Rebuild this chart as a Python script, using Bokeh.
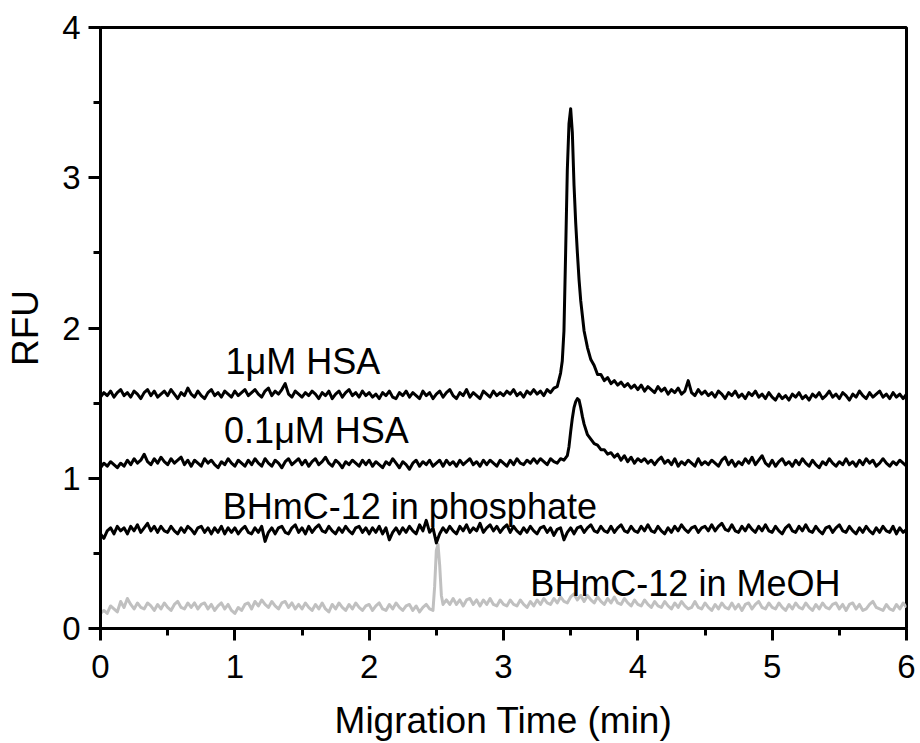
import numpy as np
from bokeh.plotting import figure
from bokeh.models import Range1d, FixedTicker, ColumnDataSource
from bokeh.core.properties import value
from bokeh.embed import file_html
from bokeh.resources import INLINE

# ---------------- data ----------------
# sample times of the electropherograms (min), 0.025 min spacing
time_grid = np.round(np.arange(241) * 0.025, 4)

hsa_1uM = [
    1.54, 1.57, 1.55, 1.58, 1.54, 1.57, 1.59, 1.55, 1.57, 1.54, 1.58, 1.56, 1.53, 1.57, 1.59, 1.55, 1.58, 1.54, 1.56, 1.58,
    1.55, 1.59, 1.56, 1.53, 1.57, 1.55, 1.60, 1.56, 1.54, 1.58, 1.55, 1.53, 1.57, 1.59, 1.55, 1.57, 1.54, 1.58, 1.56, 1.54,
    1.58, 1.55, 1.57, 1.59, 1.55, 1.57, 1.59, 1.56, 1.54, 1.58, 1.60, 1.55, 1.58, 1.56, 1.59, 1.63, 1.56, 1.54, 1.58, 1.56,
    1.54, 1.57, 1.55, 1.58, 1.56, 1.53, 1.57, 1.55, 1.58, 1.53, 1.56, 1.58, 1.54, 1.57, 1.59, 1.55, 1.57, 1.54, 1.58, 1.55,
    1.57, 1.54, 1.56, 1.53, 1.57, 1.55, 1.58, 1.54, 1.53, 1.57, 1.55, 1.58, 1.54, 1.57, 1.55, 1.53, 1.58, 1.55, 1.57, 1.53,
    1.56, 1.58, 1.54, 1.57, 1.59, 1.55, 1.53, 1.57, 1.55, 1.59, 1.54, 1.57, 1.55, 1.53, 1.58, 1.56, 1.54, 1.58, 1.55, 1.57,
    1.55, 1.58, 1.56, 1.59, 1.55, 1.57, 1.54, 1.58, 1.56, 1.59, 1.56, 1.58, 1.55, 1.59, 1.57, 1.60, 1.61, 1.70, 1.98, 3.05,
    3.46, 2.95, 2.50, 2.18, 1.98, 1.87, 1.79, 1.75, 1.69, 1.69, 1.65, 1.67, 1.63, 1.65, 1.62, 1.64, 1.61, 1.63, 1.60, 1.62,
    1.59, 1.62, 1.58, 1.61, 1.59, 1.57, 1.61, 1.58, 1.60, 1.56, 1.59, 1.57, 1.60, 1.56, 1.58, 1.65, 1.57, 1.55, 1.59, 1.56,
    1.58, 1.55, 1.57, 1.54, 1.58, 1.56, 1.53, 1.57, 1.55, 1.58, 1.54, 1.56, 1.53, 1.57, 1.55, 1.58, 1.54, 1.56, 1.53, 1.57,
    1.54, 1.52, 1.56, 1.53, 1.55, 1.52, 1.56, 1.54, 1.57, 1.53, 1.55, 1.52, 1.56, 1.54, 1.57, 1.53, 1.55, 1.58, 1.54, 1.56,
    1.53, 1.57, 1.55, 1.52, 1.56, 1.54, 1.58, 1.55, 1.53, 1.57, 1.54, 1.56, 1.58, 1.54, 1.56, 1.53, 1.57, 1.54, 1.56, 1.53,
    1.56,
]
hsa_1uM_peak_t = [3.4375, 3.4625, 3.4875, 3.5125, 3.5375, 3.5625]
hsa_1uM_peak_v = [1.78, 2.50, 3.36, 3.30, 2.70, 2.32]

hsa_01uM = [
    1.07, 1.10, 1.08, 1.11, 1.09, 1.07, 1.10, 1.08, 1.12, 1.09, 1.13, 1.10, 1.12, 1.16, 1.11, 1.09, 1.13, 1.10, 1.14, 1.11,
    1.09, 1.13, 1.10, 1.12, 1.14, 1.09, 1.12, 1.08, 1.12, 1.10, 1.08, 1.13, 1.10, 1.12, 1.09, 1.07, 1.11, 1.09, 1.13, 1.10,
    1.08, 1.12, 1.10, 1.08, 1.12, 1.09, 1.13, 1.10, 1.08, 1.13, 1.10, 1.08, 1.12, 1.10, 1.07, 1.11, 1.13, 1.09, 1.11, 1.13,
    1.09, 1.12, 1.08, 1.11, 1.13, 1.09, 1.11, 1.14, 1.10, 1.08, 1.12, 1.10, 1.07, 1.11, 1.09, 1.12, 1.10, 1.08, 1.12, 1.09,
    1.12, 1.08, 1.11, 1.09, 1.07, 1.11, 1.09, 1.13, 1.10, 1.07, 1.11, 1.09, 1.06, 1.10, 1.12, 1.08, 1.11, 1.09, 1.12, 1.08,
    1.10, 1.12, 1.08, 1.12, 1.09, 1.11, 1.08, 1.12, 1.09, 1.11, 1.13, 1.09, 1.11, 1.08, 1.12, 1.09, 1.12, 1.10, 1.08, 1.12,
    1.10, 1.08, 1.12, 1.09, 1.13, 1.10, 1.09, 1.12, 1.10, 1.13, 1.10, 1.13, 1.11, 1.09, 1.13, 1.11, 1.10, 1.13, 1.12, 1.15,
    1.31, 1.47, 1.53, 1.47, 1.36, 1.29, 1.26, 1.23, 1.22, 1.19, 1.19, 1.16, 1.17, 1.14, 1.16, 1.12, 1.15, 1.11, 1.14, 1.10,
    1.13, 1.11, 1.13, 1.10, 1.12, 1.09, 1.12, 1.14, 1.10, 1.12, 1.09, 1.13, 1.08, 1.11, 1.09, 1.12, 1.10, 1.08, 1.13, 1.09,
    1.11, 1.09, 1.12, 1.10, 1.08, 1.12, 1.14, 1.09, 1.12, 1.08, 1.11, 1.09, 1.13, 1.10, 1.14, 1.09, 1.12, 1.15, 1.10, 1.08,
    1.12, 1.08, 1.11, 1.13, 1.09, 1.11, 1.08, 1.12, 1.09, 1.13, 1.10, 1.08, 1.12, 1.09, 1.07, 1.11, 1.09, 1.13, 1.10, 1.08,
    1.11, 1.09, 1.13, 1.09, 1.11, 1.08, 1.12, 1.09, 1.13, 1.10, 1.12, 1.08, 1.10, 1.13, 1.10, 1.08, 1.11, 1.09, 1.12, 1.10,
    1.08,
]
hsa_01uM_peak_t = [3.4875, 3.5125, 3.5375, 3.5625, 3.5875]
hsa_01uM_peak_v = [1.21, 1.40, 1.51, 1.52, 1.41]

bhmc_phosphate = [
    0.63, 0.60, 0.65, 0.67, 0.63, 0.68, 0.65, 0.67, 0.63, 0.68, 0.65, 0.69, 0.64, 0.67, 0.70, 0.65, 0.68, 0.64, 0.68, 0.65,
    0.64, 0.68, 0.65, 0.63, 0.67, 0.64, 0.68, 0.66, 0.63, 0.67, 0.68, 0.64, 0.67, 0.63, 0.67, 0.64, 0.68, 0.63, 0.67, 0.64,
    0.67, 0.63, 0.66, 0.68, 0.64, 0.63, 0.67, 0.64, 0.68, 0.58, 0.64, 0.67, 0.63, 0.67, 0.68, 0.64, 0.63, 0.67, 0.69, 0.64,
    0.67, 0.63, 0.68, 0.64, 0.67, 0.69, 0.65, 0.64, 0.68, 0.65, 0.63, 0.67, 0.64, 0.68, 0.65, 0.63, 0.67, 0.68, 0.64, 0.67,
    0.63, 0.67, 0.64, 0.68, 0.63, 0.67, 0.59, 0.64, 0.67, 0.63, 0.67, 0.64, 0.68, 0.65, 0.63, 0.69, 0.65, 0.72, 0.64, 0.67,
    0.57, 0.63, 0.67, 0.64, 0.68, 0.65, 0.63, 0.68, 0.65, 0.69, 0.64, 0.67, 0.65, 0.70, 0.64, 0.67, 0.69, 0.65, 0.68, 0.64,
    0.67, 0.69, 0.64, 0.68, 0.65, 0.63, 0.67, 0.64, 0.68, 0.65, 0.63, 0.67, 0.68, 0.64, 0.67, 0.62, 0.66, 0.67, 0.59, 0.64,
    0.67, 0.63, 0.67, 0.68, 0.64, 0.67, 0.69, 0.65, 0.64, 0.68, 0.65, 0.64, 0.68, 0.64, 0.67, 0.69, 0.65, 0.64, 0.68, 0.65,
    0.64, 0.68, 0.65, 0.69, 0.65, 0.64, 0.68, 0.65, 0.63, 0.67, 0.64, 0.68, 0.65, 0.69, 0.66, 0.64, 0.67, 0.68, 0.64, 0.67,
    0.68, 0.65, 0.69, 0.65, 0.68, 0.70, 0.66, 0.65, 0.69, 0.65, 0.64, 0.68, 0.65, 0.69, 0.66, 0.64, 0.68, 0.65, 0.69, 0.65,
    0.64, 0.68, 0.65, 0.63, 0.67, 0.69, 0.65, 0.64, 0.68, 0.65, 0.69, 0.65, 0.64, 0.68, 0.65, 0.63, 0.67, 0.68, 0.64, 0.67,
    0.69, 0.65, 0.64, 0.68, 0.65, 0.63, 0.67, 0.64, 0.68, 0.65, 0.63, 0.67, 0.64, 0.68, 0.65, 0.64, 0.68, 0.63, 0.67, 0.64,
    0.66,
]

bhmc_meoh = [
    0.10, 0.12, 0.10, 0.15, 0.13, 0.11, 0.18, 0.14, 0.20, 0.16, 0.13, 0.17, 0.14, 0.13, 0.17, 0.15, 0.12, 0.16, 0.13, 0.17,
    0.14, 0.12, 0.16, 0.18, 0.14, 0.13, 0.17, 0.14, 0.17, 0.13, 0.16, 0.17, 0.13, 0.16, 0.12, 0.15, 0.17, 0.13, 0.16, 0.12,
    0.10, 0.14, 0.12, 0.16, 0.17, 0.13, 0.18, 0.15, 0.19, 0.16, 0.14, 0.18, 0.15, 0.13, 0.17, 0.18, 0.14, 0.17, 0.13, 0.16,
    0.13, 0.17, 0.14, 0.12, 0.16, 0.13, 0.17, 0.13, 0.11, 0.16, 0.13, 0.17, 0.14, 0.12, 0.16, 0.13, 0.17, 0.14, 0.12, 0.15,
    0.16, 0.12, 0.15, 0.17, 0.13, 0.12, 0.16, 0.13, 0.17, 0.14, 0.12, 0.15, 0.16, 0.12, 0.15, 0.11, 0.14, 0.16, 0.13, 0.12,
    0.52, 0.42, 0.16, 0.19, 0.16, 0.20, 0.16, 0.19, 0.15, 0.19, 0.20, 0.16, 0.19, 0.15, 0.19, 0.16, 0.20, 0.16, 0.15, 0.19,
    0.16, 0.15, 0.19, 0.16, 0.15, 0.19, 0.16, 0.14, 0.18, 0.15, 0.19, 0.16, 0.20, 0.17, 0.16, 0.20, 0.17, 0.21, 0.18, 0.17,
    0.21, 0.23, 0.19, 0.22, 0.18, 0.22, 0.19, 0.17, 0.21, 0.18, 0.16, 0.20, 0.17, 0.21, 0.17, 0.16, 0.20, 0.17, 0.15, 0.19,
    0.16, 0.15, 0.19, 0.16, 0.14, 0.18, 0.15, 0.14, 0.18, 0.15, 0.13, 0.17, 0.14, 0.18, 0.15, 0.13, 0.14, 0.18, 0.14, 0.13,
    0.17, 0.14, 0.12, 0.16, 0.13, 0.17, 0.14, 0.13, 0.17, 0.13, 0.16, 0.12, 0.16, 0.17, 0.13, 0.16, 0.18, 0.14, 0.13, 0.17,
    0.14, 0.13, 0.17, 0.14, 0.12, 0.16, 0.13, 0.17, 0.14, 0.13, 0.17, 0.14, 0.12, 0.16, 0.13, 0.17, 0.14, 0.13, 0.16, 0.17,
    0.13, 0.16, 0.12, 0.16, 0.17, 0.13, 0.16, 0.12, 0.13, 0.16, 0.18, 0.14, 0.13, 0.12, 0.16, 0.13, 0.12, 0.16, 0.13, 0.17,
    0.14,
]
bhmc_meoh_peak_t = [2.4875, 2.5125, 2.5375]
bhmc_meoh_peak_v = [0.28, 0.56, 0.22]

labels = ["1\u03bcM HSA", "0.1\u03bcM HSA", "BHmC-12 in phosphate", "BHmC-12 in MeOH"]
label_x = [0.93, 0.92, 0.91, 3.20]
label_y = [1.78, 1.32, 0.81, 0.30]

x_ticks = [0, 1, 2, 3, 4, 5, 6]
x_minor = [0.5, 1.5, 2.5, 3.5, 4.5, 5.5]
y_ticks = [0, 1, 2, 3, 4]
y_minor = [0.5, 1.5, 2.5, 3.5]

for arr in (hsa_1uM, hsa_01uM, bhmc_phosphate, bhmc_meoh):
    assert len(arr) == len(time_grid), len(arr)


def merge(grid_v, extra_t=(), extra_v=()):
    t = np.concatenate([time_grid, np.asarray(extra_t, dtype=float)])
    v = np.concatenate([np.asarray(grid_v, dtype=float), np.asarray(extra_v, dtype=float)])
    order = np.argsort(t, kind="stable")
    return ColumnDataSource(dict(t=t[order], v=v[order]))


FONT = "Liberation Sans"

p = figure(width=920, height=743, x_range=Range1d(0, 6), y_range=Range1d(0, 4),
           output_backend="svg", toolbar_location=None,
           min_border_left=100, min_border_right=14, min_border_top=27, min_border_bottom=114,
           background_fill_color="white", border_fill_color="white")

p.xgrid.visible = False
p.ygrid.visible = False
p.outline_line_color = "black"
p.outline_line_width = 3
p.outline_line_alpha = 1.0

p.line("t", "v", source=merge(bhmc_meoh, bhmc_meoh_peak_t, bhmc_meoh_peak_v),
       line_color="#c0c0c0", line_width=3, line_join="round")
p.line("t", "v", source=merge(bhmc_phosphate), line_color="black", line_width=3, line_join="round")
p.line("t", "v", source=merge(hsa_01uM, hsa_01uM_peak_t, hsa_01uM_peak_v),
       line_color="black", line_width=3, line_join="round")
p.line("t", "v", source=merge(hsa_1uM, hsa_1uM_peak_t, hsa_1uM_peak_v),
       line_color="black", line_width=3, line_join="round")

p.text(x=label_x, y=label_y, text=labels, text_font=value(FONT), text_font_size="36px",
       text_color="black", text_align="left", text_baseline="alphabetic")

p.xaxis.ticker = FixedTicker(ticks=x_ticks, minor_ticks=x_minor)
p.yaxis.ticker = FixedTicker(ticks=y_ticks, minor_ticks=y_minor)
p.xaxis.axis_label = "Migration Time (min)"
p.yaxis.axis_label = "RFU"

for ax in (p.xaxis[0], p.yaxis[0]):
    ax.axis_line_width = 3
    ax.axis_line_color = "black"
    ax.major_tick_line_width = 3
    ax.minor_tick_line_width = 3
    ax.major_tick_in = 0
    ax.major_tick_out = 12
    ax.minor_tick_in = 0
    ax.minor_tick_out = 7
    ax.major_label_text_font = FONT
    ax.major_label_text_font_size = "33px"
    ax.major_label_text_color = "black"
    ax.axis_label_text_font = FONT
    ax.axis_label_text_font_size = "37px"
    ax.axis_label_text_font_style = "normal"
    ax.axis_label_text_color = "black"

p.xaxis.major_label_standoff = 14
p.xaxis.axis_label_standoff = 19
p.yaxis.major_label_standoff = 8
p.yaxis.axis_label_standoff = 13

open("out.html", "w").write(file_html(p, INLINE))
